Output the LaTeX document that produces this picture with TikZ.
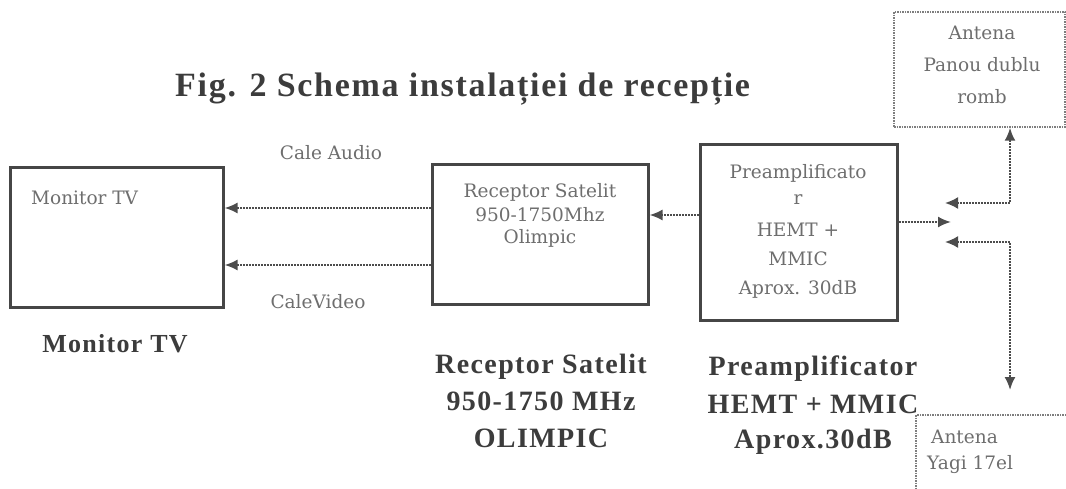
\documentclass[tikz,border=0pt]{standalone}
\usepackage{fontspec}
\setmainfont{Liberation Serif}
\newfontfamily\boxfont{DejaVu Serif}
\newfontfamily\lblfont[LetterSpace=5]{Liberation Serif}
\usetikzlibrary{arrows.meta}
\definecolor{ink}{HTML}{3C3C3C}
\definecolor{frame}{HTML}{464646}
\definecolor{boxgray}{HTML}{6E6E6E}
\definecolor{wiregray}{HTML}{4C4C4C}
\definecolor{lightframe}{HTML}{7E7E7E}
\begin{document}
\begin{tikzpicture}[x=1pt,y=-1pt,
  heavy/.style={draw=frame,line width=3pt,inner sep=0pt},
  light/.style={draw=lightframe,line width=1.5pt,densely dotted,inner sep=0pt},
  boxtxt/.style={font=\boxfont\fontsize{18.5}{22}\selectfont,text=boxgray,inner sep=0pt},
  lbl/.style={font=\lblfont\bfseries\fontsize{28}{34}\selectfont,text=ink,inner sep=0pt,anchor=base},
  ttl/.style={font=\lblfont\bfseries\fontsize{34}{40}\selectfont,text=ink,inner sep=0pt,anchor=base west},
  wire/.style={draw=wiregray,line width=2pt,densely dotted},
  tip/.style={-{Latex[length=13pt,width=11pt]}},
  bitip/.style={{Latex[length=13pt,width=12pt]}-{Latex[length=13pt,width=11pt]}}
]
\clip (0,0) rectangle (1066,489);
\fill[white] (0,0) rectangle (1066,489);

% boxes
\node[heavy,minimum width=213pt,minimum height=139pt] (mon) at (116.5,237.5) {};
\node[heavy,minimum width=216pt,minimum height=139pt] (rec) at (540,234.5) {};
\node[heavy,minimum width=197pt,minimum height=175pt] (pre) at (798.5,232.5) {};
\node[light,minimum width=171pt,minimum height=115pt] (pan) at (979.5,69.5) {};
\node[light,minimum width=160pt,minimum height=100pt] (yag) at (996,465) {};

% inner texts
\node[boxtxt,anchor=west] (monin) at (31,198) {Monitor TV};
\node[boxtxt] (rec1) at (540,192) {Receptor Satelit};
\node[boxtxt] (rec2) at (540,215) {950-1750Mhz};
\node[boxtxt] (rec3) at (540,238) {Olimpic};
\node[boxtxt] (pre1) at (798,173) {Preamplificato};
\node[boxtxt] (pre2) at (798,200) {r};
\node[boxtxt] (pre3) at (798,230) {HEMT +};
\node[boxtxt] (pre4) at (798,259) {MMIC};
\node[boxtxt] (pre5) at (798,289) {Aprox. 30dB};
\node[boxtxt] (pan1) at (982,33) {Antena};
\node[boxtxt] (pan2) at (982,65) {Panou dublu};
\node[boxtxt] (pan3) at (982,97) {romb};
\node[boxtxt,anchor=west] (yag1) at (931,437) {Antena};
\node[boxtxt,anchor=west] (yag2) at (927,465) {Yagi 17el};

% connector labels
\node[boxtxt] (audio) at (331,153) {Cale Audio};
\node[boxtxt] (video) at (318,302) {CaleVideo};

% bold captions
\node[ttl] (title) at (175,97) {Fig. 2 Schema instalației de recepție};
\node[lbl,font=\lblfont\bfseries\fontsize{26}{32}\selectfont] (monl) at (115,352) {Monitor TV};
\node[lbl] (recl1) at (541,373) {Receptor Satelit};
\node[lbl] (recl2) at (541,410) {950-1750 MHz};
\node[lbl] (recl3) at (541,447) {OLIMPIC};
\node[lbl] (prel1) at (813,375) {Preamplificator};
\node[lbl] (prel2) at (813,413) {HEMT + MMIC};
\node[lbl] (prel3) at (813,448) {Aprox.30dB};

% connectors
\coordinate (ya) at (0,208);
\coordinate (yv) at (0,265);
\coordinate (yr) at (0,215);
\coordinate (yp) at (0,222);
\coordinate (sw) at (951,222);
\coordinate (up) at (945,203);
\coordinate (lo) at (945,242);
\coordinate (vx) at (1010,0);
\coordinate (yend) at (1010,390);

\draw[wire,tip] (rec.west |- ya) -- (mon.east |- ya);
\draw[wire,tip] (rec.west |- yv) -- (mon.east |- yv);
\draw[wire,tip] (pre.west |- yr) -- (rec.east |- yr);
\draw[wire,tip] (pre.east |- yp) -- (sw);
\draw[wire,bitip] (up) -| (vx |- pan.south);
\draw[wire,bitip] (lo) -| (yend);
\end{tikzpicture}
\end{document}
